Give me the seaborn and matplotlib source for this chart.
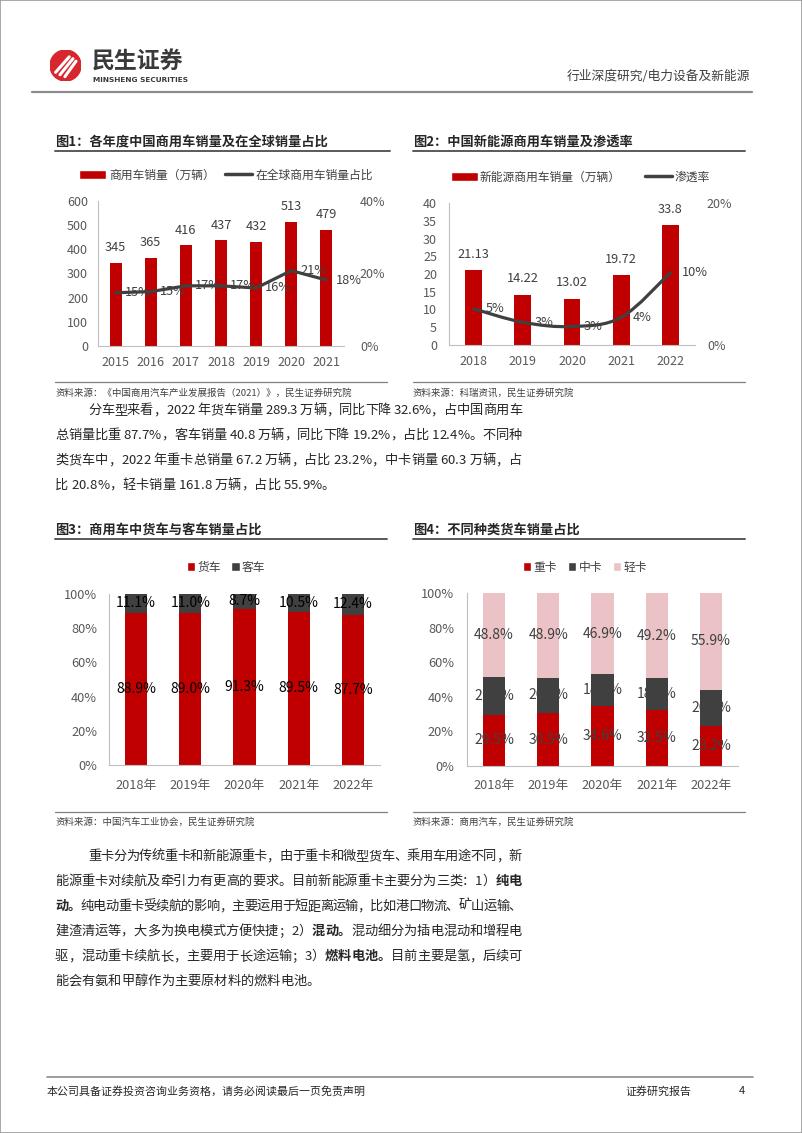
import numpy as np
import matplotlib
matplotlib.use("Agg")
import matplotlib.pyplot as plt
import seaborn as sns
from matplotlib.patches import Patch, Circle, Rectangle, PathPatch
from matplotlib.lines import Line2D
from matplotlib.path import Path

sns.set_theme(style="white")
plt.rcParams["font.family"] = ["Noto Sans CJK SC", "DejaVu Sans"]

# ---------------- data ----------------
years1 = ["2015", "2016", "2017", "2018", "2019", "2020", "2021"]
cv_sales = [345, 365, 416, 437, 432, 513, 479]            # 万辆
cv_global_share = [14.7, 15.0, 16.6, 16.6, 16.0, 20.8, 18.2]  # %

years2 = ["2018", "2019", "2020", "2021", "2022"]
nev_sales = [21.13, 14.22, 13.02, 19.72, 33.8]              # 万辆
nev_penetration = [5.1, 3.2, 2.6, 3.9, 10.2]                # %

years3 = ["2018年", "2019年", "2020年", "2021年", "2022年"]
truck_share = [88.9, 89.0, 91.3, 89.5, 87.7]
bus_share = [11.1, 11.0, 8.7, 10.5, 12.4]

years4 = ["2018年", "2019年", "2020年", "2021年", "2022年"]
heavy_share = [29.5, 30.5, 34.6, 32.5, 23.2]
medium_share = [21.7, 20.6, 18.5, 18.3, 20.9]
light_share = [48.8, 48.9, 46.9, 49.2, 55.9]

# ---------------- style ----------------
RED = "#C00000"
DARK = "#404040"
PINK = "#EBC3C6"
TICK = "#595959"
SPINE = "#BFBFBF"
TXT = "#262626"

W, H = 802, 1133
fig = plt.figure(figsize=(W / 100, H / 100), dpi=100)
fig.patch.set_facecolor("white")


def fx(x):
    return x / W


def fy(y):
    return 1 - y / H


def add_ax(x0, y0, x1, y1):
    return fig.add_axes([x0 / W, 1 - y1 / H, (x1 - x0) / W, (y1 - y0) / H])


def hline(x0, x1, y, color, lw):
    fig.add_artist(Line2D([fx(x0), fx(x1)], [fy(y), fy(y)], color=color, lw=lw,
                          transform=fig.transFigure))


def style_ax(ax, lpad, xpad, size):
    for s in ["top", "right"]:
        ax.spines[s].set_visible(False)
    for s in ["left", "bottom"]:
        ax.spines[s].set_color(SPINE)
        ax.spines[s].set_linewidth(0.8)
    ax.tick_params(axis="y", length=0, pad=lpad, labelsize=size, labelcolor=TICK)
    ax.tick_params(axis="x", length=0, pad=xpad, labelsize=size, labelcolor=TICK)
    ax.set_xlabel("")
    ax.set_ylabel("")
    ax.grid(False)
    ax.set_facecolor("none")


# ---------------- header ----------------
fig.add_artist(Rectangle((0, 0), 1, 1, transform=fig.transFigure, fill=False,
                         edgecolor="#9a9a9a", lw=1.2))
logo = add_ax(50, 50, 81, 81)
logo.set_xlim(0, 1)
logo.set_ylim(0, 1)
logo.set_aspect("equal")
logo.axis("off")
logo.add_patch(Circle((0.5, 0.5), 0.5, color="#D7262E"))
for (x0, y0, x1, y1) in [(0.18, 0.28, 0.62, 0.78), (0.32, 0.2, 0.74, 0.72), (0.48, 0.14, 0.84, 0.64)]:
    logo.plot([x0, x1], [y0, y1], color="white", lw=2.2, solid_capstyle="round")
fig.text(fx(92), fy(62), "民生证券", fontsize=16.5, fontweight="bold", color="#3a3a3a",
         va="center", ha="left")
fig.text(fx(93), fy(80), "MINSHENG SECURITIES", fontsize=5.3, fontweight="bold",
         color="#3a3a3a", va="center", ha="left", family=["DejaVu Sans"])
fig.text(fx(750), fy(76), "行业深度研究/电力设备及新能源", fontsize=9.2, color=DARK,
         va="center", ha="right")
hline(32, 752, 92, "#8c8c8c", 1.6)

# ---------------- titles / sources ----------------
TITLE_SIZE = 9.5
fig.text(fx(55), fy(142), "图1：各年度中国商用车销量及在全球销量占比", fontsize=TITLE_SIZE,
         fontweight="bold", color=TXT, va="center")
hline(55, 390, 151, "#595959", 1.4)
fig.text(fx(413), fy(142), "图2：中国新能源商用车销量及渗透率", fontsize=TITLE_SIZE,
         fontweight="bold", color=TXT, va="center")
hline(413, 745, 151, "#595959", 1.4)
fig.text(fx(55), fy(530), "图3：商用车中货车与客车销量占比", fontsize=TITLE_SIZE,
         fontweight="bold", color=TXT, va="center")
hline(55, 387, 539, "#595959", 1.4)
fig.text(fx(413), fy(530), "图4：不同种类货车销量占比", fontsize=TITLE_SIZE,
         fontweight="bold", color=TXT, va="center")
hline(413, 745, 539, "#595959", 1.4)

SRC = 6.8
hline(55, 387, 382, "#7f7f7f", 0.9)
fig.text(fx(55), fy(393), "资料来源：《中国商用汽车产业发展报告（2021）》，民生证券研究院",
         fontsize=SRC, color=DARK, va="center")
hline(413, 745, 382, "#7f7f7f", 0.9)
fig.text(fx(413), fy(393), "资料来源：科瑞资讯，民生证券研究院", fontsize=SRC, color=DARK,
         va="center")
hline(55, 387, 812, "#7f7f7f", 0.9)
fig.text(fx(55), fy(822), "资料来源：中国汽车工业协会，民生证券研究院", fontsize=SRC,
         color=DARK, va="center")
hline(413, 745, 812, "#7f7f7f", 0.9)
fig.text(fx(413), fy(822), "资料来源：商用汽车，民生证券研究院", fontsize=SRC, color=DARK,
         va="center")

LAB = 8.5
TK = 9

# ---------------- chart 1 ----------------
ax1 = add_ax(98, 201, 344, 346)
sns.barplot(x=years1, y=cv_sales, ax=ax1, color=RED, saturation=1, width=0.34,
            errorbar=None, linewidth=0)
ax1.set_ylim(0, 600)
ax1.set_yticks(range(0, 601, 100))
ax1.set_xlim(-0.5, len(years1) - 0.5)
style_ax(ax1, 7.2, 7.5, TK)
for i, v in enumerate(cv_sales):
    ax1.annotate(f"{v}", (i, v), xytext=(0, 11), textcoords="offset points",
                 ha="center", va="center", fontsize=9.2, color=DARK)
ax1b = ax1.twinx()
sns.lineplot(x=np.arange(len(years1)), y=cv_global_share, ax=ax1b, color=DARK, lw=2.3,
             legend=False)
ax1b.set_ylim(0, 40)
ax1b.set_yticks([0, 20, 40])
ax1b.set_yticklabels(["0%", "20%", "40%"])
ax1b.set_xlim(-0.5, len(years1) - 0.5)
for s in ax1b.spines.values():
    s.set_visible(False)
ax1b.tick_params(axis="y", length=0, pad=11.5, labelsize=TK, labelcolor=TICK)
ax1b.set_ylabel("")
for i, v in enumerate(cv_global_share):
    ax1b.annotate(f"{round(v)}%", (i, v), xytext=(6.5, 0), textcoords="offset points",
                  ha="left", va="center", fontsize=9.2, color=DARK)
ax1.legend(handles=[Patch(facecolor=RED), Line2D([0], [0], color=DARK, lw=2.5)],
           labels=["商用车销量（万辆）", "在全球商用车销量占比"], loc="center",
           bbox_to_anchor=(fx(226), fy(175)), bbox_transform=fig.transFigure, ncol=2,
           frameon=False, fontsize=LAB, handlelength=2.3, handleheight=0.7,
           handletextpad=0.25, columnspacing=0.85, labelcolor=DARK)

# ---------------- chart 2 ----------------
ax2 = add_ax(449, 203, 695, 345)
sns.barplot(x=years2, y=nev_sales, ax=ax2, color=RED, saturation=1, width=0.34,
            errorbar=None, linewidth=0)
ax2.set_ylim(0, 40)
ax2.set_yticks(range(0, 41, 5))
ax2.set_xlim(-0.5, len(years2) - 0.5)
style_ax(ax2, 8.6, 7.5, TK)
for i, v in enumerate(nev_sales):
    ax2.annotate(f"{v:g}", (i, v), xytext=(0, 11.5), textcoords="offset points",
                 ha="center", va="center", fontsize=9.2, color=DARK)
ax2b = ax2.twinx()
ax2b.set_ylim(0, 20)
ax2b.set_yticks([0, 20])
ax2b.set_yticklabels(["0%", "20%"])
ax2b.set_xlim(-0.5, len(years2) - 0.5)
for s in ax2b.spines.values():
    s.set_visible(False)
ax2b.tick_params(axis="y", length=0, pad=8.6, labelsize=TK, labelcolor=TICK)
# smoothed line (Bezier through the data points, like Excel's smoothed line)
px = np.arange(len(years2), dtype=float)
py = np.array(nev_penetration, dtype=float)
verts = [(px[0], py[0])]
codes = [Path.MOVETO]
n = len(px)
for i in range(n - 1):
    p0 = np.array([px[max(i - 1, 0)], py[max(i - 1, 0)]])
    p1 = np.array([px[i], py[i]])
    p2 = np.array([px[i + 1], py[i + 1]])
    p3 = np.array([px[min(i + 2, n - 1)], py[min(i + 2, n - 1)]])
    c1 = p1 + (p2 - p0) / 6.0
    c2 = p2 - (p3 - p1) / 6.0
    verts += [tuple(c1), tuple(c2), tuple(p2)]
    codes += [Path.CURVE4] * 3
ax2b.add_patch(PathPatch(Path(verts, codes), fill=False, edgecolor=DARK, lw=2.3,
                         capstyle="round", joinstyle="round"))
for i, v in enumerate(nev_penetration):
    ax2b.annotate(f"{round(v)}%", (i, v), xytext=(8.5, 0), textcoords="offset points",
                  ha="left", va="center", fontsize=9.2, color=DARK)
ax2.legend(handles=[Patch(facecolor=RED), Line2D([0], [0], color=DARK, lw=2.5)],
           labels=["新能源商用车销量（万辆）", "渗透率"], loc="center",
           bbox_to_anchor=(fx(580), fy(177)), bbox_transform=fig.transFigure, ncol=2,
           frameon=False, fontsize=LAB, handlelength=2.3, handleheight=0.7,
           handletextpad=0.15, columnspacing=2.1, labelcolor=DARK)

# ---------------- chart 3 ----------------
ax3 = add_ax(109, 594, 380, 765)
total3 = [a + b for a, b in zip(truck_share, bus_share)]
sns.barplot(x=years3, y=total3, ax=ax3, color=DARK, saturation=1, width=0.41,
            errorbar=None, linewidth=0)
sns.barplot(x=years3, y=truck_share, ax=ax3, color=RED, saturation=1, width=0.41,
            errorbar=None, linewidth=0)
ax3.set_ylim(0, 100)
ax3.set_yticks(range(0, 101, 20))
ax3.set_yticklabels([f"{t}%" for t in range(0, 101, 20)])
ax3.set_xlim(-0.5, len(years3) - 0.5)
style_ax(ax3, 8.6, 10, 9.2)
for i, (t, b) in enumerate(zip(truck_share, bus_share)):
    ax3.text(i, t / 2, f"{t:.1f}%", ha="center", va="center", fontsize=10, color="black")
    ax3.text(i, t + b / 2, f"{b:.1f}%", ha="center", va="center", fontsize=10,
             color="black")
ax3.legend(handles=[Patch(facecolor=RED), Patch(facecolor=DARK)], labels=["货车", "客车"],
           loc="center", bbox_to_anchor=(fx(226), fy(567)), bbox_transform=fig.transFigure,
           ncol=2, frameon=False, fontsize=LAB, handlelength=0.7, handleheight=0.7,
           handletextpad=0.2, columnspacing=0.9, labelcolor=DARK)

# ---------------- chart 4 ----------------
ax4 = add_ax(467, 593, 738, 766)
cum_hm = [a + b for a, b in zip(heavy_share, medium_share)]
cum_all = [a + b for a, b in zip(cum_hm, light_share)]
sns.barplot(x=years4, y=cum_all, ax=ax4, color=PINK, saturation=1, width=0.41,
            errorbar=None, linewidth=0)
sns.barplot(x=years4, y=cum_hm, ax=ax4, color=DARK, saturation=1, width=0.41,
            errorbar=None, linewidth=0)
sns.barplot(x=years4, y=heavy_share, ax=ax4, color=RED, saturation=1, width=0.41,
            errorbar=None, linewidth=0)
ax4.set_ylim(0, 100)
ax4.set_yticks(range(0, 101, 20))
ax4.set_yticklabels([f"{t}%" for t in range(0, 101, 20)])
ax4.set_xlim(-0.5, len(years4) - 0.5)
style_ax(ax4, 9.4, 9.5, 9.2)
for i, (h, m, l) in enumerate(zip(heavy_share, medium_share, light_share)):
    ax4.text(i, h / 2, f"{h:.1f}%", ha="center", va="center", fontsize=10, color=DARK)
    ax4.text(i, h + m / 2, f"{m:.1f}%", ha="center", va="center", fontsize=10, color=DARK)
    ax4.text(i, h + m + l / 2, f"{l:.1f}%", ha="center", va="center", fontsize=10,
             color=DARK)
ax4.legend(handles=[Patch(facecolor=RED), Patch(facecolor=DARK), Patch(facecolor=PINK)],
           labels=["重卡", "中卡", "轻卡"], loc="center", bbox_to_anchor=(fx(585), fy(567)),
           bbox_transform=fig.transFigure, ncol=3, frameon=False, fontsize=LAB,
           handlelength=0.7, handleheight=0.7, handletextpad=0.2, columnspacing=0.9,
           labelcolor=DARK)

# ---------------- body text (justified, char by char) ----------------
renderer = fig.canvas.get_renderer()
_wc = {}
BODY = 9.5


def cw(ch, bold):
    key = (ch, bold)
    if key not in _wc:
        if ch == " ":
            a = fig.text(0, 0, "中 中", fontsize=BODY)
            b = fig.text(0, 0, "中中", fontsize=BODY)
            w = a.get_window_extent(renderer).width - b.get_window_extent(renderer).width
            a.remove()
            b.remove()
        else:
            t = fig.text(0, 0, ch, fontsize=BODY, fontweight="bold" if bold else "normal")
            w = t.get_window_extent(renderer).width
            t.remove()
        _wc[key] = w
    return _wc[key]


def body_line(x0, x1, y, segs, justify=True):
    chars = [(c, b) for s, b in segs for c in s]
    ws = [cw(c, b) for c, b in chars]
    extra = 0.0
    if justify and len(chars) > 1:
        extra = (x1 - x0 - sum(ws)) / (len(chars) - 1)
    x = x0
    for (c, b), w in zip(chars, ws):
        if c != " ":
            fig.text(fx(x), fy(y + 5), c, fontsize=BODY, color=TXT, va="baseline",
                     ha="left", fontweight="bold" if b else "normal")
        x += w + extra


RIGHT = 522
para1 = [
    (88, 409, [("分车型来看，2022 年货车销量 289.3 万辆，同比下降 32.6%，占中国商用车", False)], True),
    (55, 434, [("总销量比重 87.7%，客车销量 40.8 万辆，同比下降 19.2%，占比 12.4%。不同种", False)], True),
    (55, 459, [("类货车中，2022 年重卡总销量 67.2 万辆，占比 23.2%，中卡销量 60.3 万辆，占", False)], True),
    (55, 484, [("比 20.8%，轻卡销量 161.8 万辆，占比 55.9%。", False)], False),
]
para2 = [
    (88, 855, [("重卡分为传统重卡和新能源重卡，由于重卡和微型货车、乘用车用途不同，新", False)], True),
    (55, 880, [("能源重卡对续航及牵引力有更高的要求。目前新能源重卡主要分为三类：1）", False),
               ("纯电", True)], True),
    (55, 905, [("动。", True), ("纯电动重卡受续航的影响，主要运用于短距离运输，比如港口物流、矿山运输、", False)], True),
    (55, 930, [("建渣清运等，大多为换电模式方便快捷；2）", False), ("混动。", True),
               ("混动细分为插电混动和增程电", False)], True),
    (55, 955, [("驱，混动重卡续航长，主要用于长途运输；3）", False), ("燃料电池。", True),
               ("目前主要是氢，后续可", False)], True),
    (55, 980, [("能会有氨和甲醇作为主要原材料的燃料电池。", False)], False),
]
for x0, y, segs, j in para1 + para2:
    body_line(x0, RIGHT, y, segs, j)

# ---------------- footer ----------------
hline(47, 753, 1077, "#8c8c8c", 1.2)
fig.text(fx(47), fy(1091), "本公司具备证券投资咨询业务资格，请务必阅读最后一页免责声明",
         fontsize=7.9, color=TXT, va="center")
fig.text(fx(625), fy(1091), "证券研究报告", fontsize=7.9, color=TXT, va="center")
fig.text(fx(742), fy(1091), "4", fontsize=7.9, color=TXT, va="center", ha="center")

fig.savefig("out.png", dpi=100, facecolor="white")
